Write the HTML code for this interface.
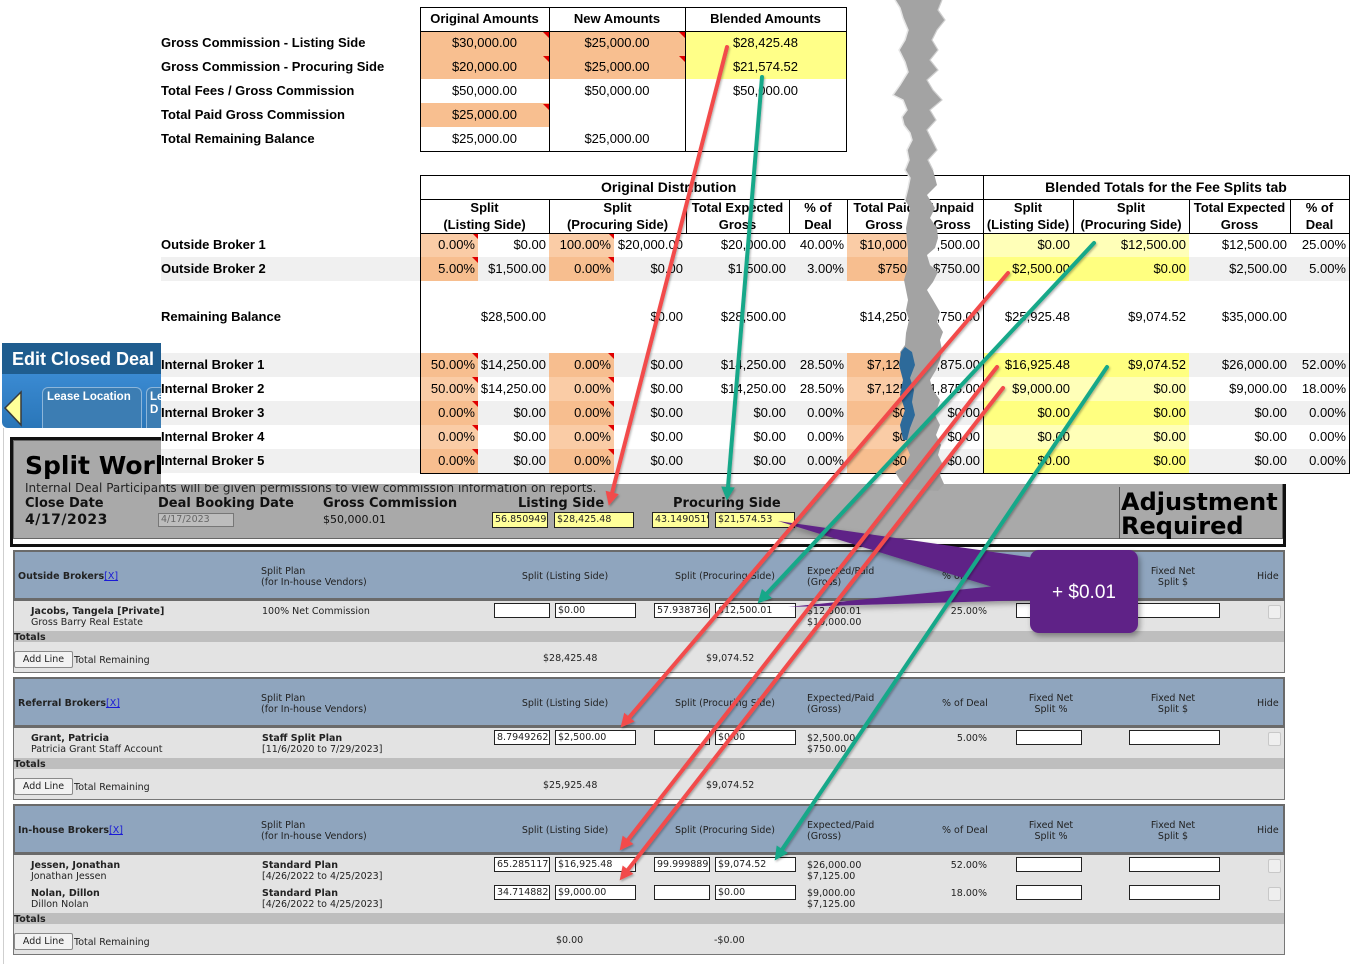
<!DOCTYPE html>
<html><head><meta charset="utf-8">
<style>
*{box-sizing:border-box}
body{margin:0;width:1364px;height:964px;position:relative;overflow:hidden;background:#fff;font-family:"Liberation Sans",Arial,sans-serif;color:#000}
.a{position:absolute}
.t{position:absolute;white-space:nowrap;font-size:13px;line-height:16px}
.tb{font-weight:bold}
.c{text-align:center}
.o{background:#F8BF90}
.tri{position:absolute;width:0;height:0;border-top:6px solid #E00000;border-left:6px solid transparent}
.sh{position:absolute;font-weight:bold;font-size:13px;line-height:17px;text-align:center;white-space:nowrap;top:199px}
table.d{position:absolute;left:420px;top:233px;border-collapse:collapse;table-layout:fixed;width:929px}
table.d td{height:24px;padding:0 3px 0 0;text-align:right;font-size:13px;white-space:nowrap;line-height:24px;overflow:visible}
table.d tr.g td{background:#F0F0F0}
table.d td.o1{background:#FACCA6}
table.d tr.g td.o2, table.d td.o2{background:#F7BE8F}
table.d td.y1{background:#FFFFB8}
table.d tr.g td.y2, table.d td.y2{background:#FFFF80}
td.tr{position:relative}
td.tr::after{content:"";position:absolute;right:0;top:0;width:0;height:0;border-top:6px solid #E00000;border-left:6px solid transparent}
.v{position:absolute;white-space:nowrap;font-family:"DejaVu Sans",Verdana,sans-serif;font-size:9.5px;line-height:11px;color:#222;margin-top:1px}
.vb{font-weight:bold}
.lk{color:#1a1ad6;text-decoration:underline;font-weight:normal}
.sec{left:13px;width:1272px;background:#E3E3E3;border:1px solid #777}
.hd{left:13px;width:1272px;height:51px;background:#8FA5BE;border:2px solid #6A6A6A;border-bottom-width:3px}
.tot{left:14px;width:1270px;height:11px;background:#BEBEBE}
.in{position:absolute;height:15px;background:#fff;border:1px solid #222;font-family:"DejaVu Sans",Verdana,sans-serif;font-size:9.5px;line-height:13px;padding-left:2px;overflow:hidden;white-space:nowrap;color:#222}
.yi{position:absolute;height:16px;background:#FFFF99;border:1px solid #222;font-family:"DejaVu Sans",Verdana,sans-serif;font-size:9.5px;line-height:14px;padding-left:2px;overflow:hidden;white-space:nowrap;color:#222}
.cb{position:absolute;width:13px;height:14px;background:#EFEFEF;border:1px solid #C8C8C8;border-radius:2px}
.btn{position:absolute;width:59px;height:17px;background:#F2F2F2;border:1px solid #8a8a8a;border-radius:2px;font-family:"DejaVu Sans",Verdana,sans-serif;font-size:9.5px;line-height:15px;text-align:center;color:#222}
.w{position:absolute;white-space:nowrap;font-family:"DejaVu Sans",Verdana,sans-serif;color:#111}
</style></head><body>

<!-- ===== Web app layer ===== -->
<div class="a" style="left:3px;top:428px;width:1px;height:536px;background:#CFCFCF"></div>

<div class="a" style="left:2px;top:343px;width:159px;height:31px;background:#1F5D8F"></div>
<div class="a" style="left:12px;top:349px;font-size:18px;line-height:20px;font-weight:bold;color:#fff;white-space:nowrap">Edit Closed Deal</div>
<div class="a" style="left:2px;top:374px;width:159px;height:54px;background:linear-gradient(#3A8AD2,#2A76B8);border-radius:0 0 0 6px"></div>
<svg class="a" style="left:0;top:385px" width="30" height="45"><polygon points="5,23 21,7 21,40" fill="#FFFF99" stroke="#3a3a3a" stroke-width="1.5"/></svg>
<div class="a" style="left:42px;top:387px;width:100px;height:41px;background:#3C7DB3;border:1px solid #8DB6DA;border-bottom:none;border-radius:6px 6px 0 0"></div>
<div class="a" style="left:47px;top:391px;font-size:11.5px;line-height:13px;font-weight:bold;color:#fff;white-space:nowrap">Lease Location</div>
<div class="a" style="left:146px;top:387px;width:20px;height:41px;background:#3C7DB3;border:1px solid #8DB6DA;border-bottom:none;border-radius:6px 6px 0 0"></div>
<div class="a" style="left:150px;top:391px;font-size:11.5px;line-height:13px;font-weight:bold;color:#fff;white-space:nowrap">Le<br>D</div>

<!-- Split Work box -->
<div class="a" style="left:10px;top:437px;width:1276px;height:110px;border:3px solid #111;background:#fff"></div>
<div class="a" style="left:13px;top:440px;width:1270px;height:99px;background:#A9A9A9;border:1px solid #666"></div>
<div class="w" style="left:25px;top:451px;font-size:25px;line-height:30px;font-weight:bold;color:#000">Split Work</div>
<div class="w" style="left:25px;top:481px;font-size:12px;line-height:14px;color:#222">Internal Deal Participants will be given permissions to view commission information on reports.</div>
<div class="w" style="left:25px;top:496px;font-size:13px;line-height:16px;font-weight:bold">Close Date</div>
<div class="w" style="left:25px;top:512px;font-size:14px;line-height:16px;font-weight:bold;letter-spacing:0.5px">4/17/2023</div>
<div class="w" style="left:158px;top:496px;font-size:13px;line-height:16px;font-weight:bold">Deal Booking Date</div>
<div class="a" style="left:158px;top:513px;width:76px;height:14px;background:#BDBDBD;border:1px solid #777;font-family:'DejaVu Sans',sans-serif;font-size:9.5px;line-height:12px;padding-left:2px;color:#666">4/17/2023</div>
<div class="w" style="left:323px;top:496px;font-size:13px;line-height:16px;font-weight:bold">Gross Commission</div>
<div class="w" style="left:323px;top:513px;font-size:11px;line-height:14px">$50,000.01</div>
<div class="w" style="left:518px;top:496px;font-size:13px;line-height:16px;font-weight:bold">Listing Side</div>
<div class="yi" style="left:492px;top:512px;width:56px">56.850949%</div>
<div class="yi" style="left:554px;top:512px;width:80px">$28,425.48</div>
<div class="w" style="left:673px;top:496px;font-size:13px;line-height:16px;font-weight:bold">Procuring Side</div>
<div class="yi" style="left:652px;top:512px;width:57px">43.149051%</div>
<div class="yi" style="left:715px;top:512px;width:80px">$21,574.53</div>
<div class="a" style="left:1119px;top:487px;width:1px;height:52px;background:#555"></div>
<div class="w" style="left:1121px;top:490px;font-size:24px;line-height:24px;font-weight:bold;color:#000">Adjustment<br>Required</div>

<!-- Section 1: Outside Brokers -->
<div class="a sec" style="top:550px;height:123px"></div>
<div class="a hd" style="top:550px"></div>
<div class="a tot" style="top:631px"></div>
<div class="v vb" style="left:18px;top:570px">Outside Brokers<span class="lk">[X]</span></div>
<div class="v" style="left:261px;top:565px">Split Plan<br>(for In-house Vendors)</div>
<div class="v c" style="left:505px;width:120px;top:570px">Split (Listing Side)</div>
<div class="v c" style="left:665px;width:120px;top:570px">Split (Procuring Side)</div>
<div class="v" style="left:807px;top:565px">Expected/Paid<br>(Gross)</div>
<div class="v" style="left:942px;top:570px">% of Deal</div>
<div class="v c" style="left:1011px;width:80px;top:565px">Fixed Net<br>Split %</div>
<div class="v c" style="left:1133px;width:80px;top:565px">Fixed Net<br>Split $</div>
<div class="v" style="left:1257px;top:570px">Hide</div>
<div class="v" style="left:31px;top:605px"><b>Jacobs, Tangela [Private]</b><br>Gross Barry Real Estate</div>
<div class="v" style="left:262px;top:605px">100% Net Commission</div>
<div class="in" style="left:494px;top:603px;width:56px"></div>
<div class="in" style="left:555px;top:603px;width:81px">$0.00</div>
<div class="in" style="left:654px;top:603px;width:56px">57.9387361</div>
<div class="in" style="left:715px;top:603px;width:81px">$12,500.01</div>
<div class="v" style="left:807px;top:605px">$12,500.01<br>$10,000.00</div>
<div class="v" style="right:377px;top:605px">25.00%</div>
<div class="in" style="left:1016px;top:603px;width:66px"></div>
<div class="in" style="left:1129px;top:603px;width:91px"></div>
<div class="cb" style="left:1268px;top:605px"></div>
<div class="v vb" style="left:14px;top:631px">Totals</div>
<div class="btn" style="left:14px;top:651px">Add Line</div>
<div class="v" style="left:74px;top:654px">Total Remaining</div>
<div class="v" style="left:543px;top:652px">$28,425.48</div>
<div class="v" style="left:706px;top:652px">$9,074.52</div>

<!-- Section 2: Referral Brokers -->
<div class="a sec" style="top:677px;height:123px"></div>
<div class="a hd" style="top:677px"></div>
<div class="a tot" style="top:758px"></div>
<div class="v vb" style="left:18px;top:697px">Referral Brokers<span class="lk">[X]</span></div>
<div class="v" style="left:261px;top:692px">Split Plan<br>(for In-house Vendors)</div>
<div class="v c" style="left:505px;width:120px;top:697px">Split (Listing Side)</div>
<div class="v c" style="left:665px;width:120px;top:697px">Split (Procuring Side)</div>
<div class="v" style="left:807px;top:692px">Expected/Paid<br>(Gross)</div>
<div class="v" style="left:942px;top:697px">% of Deal</div>
<div class="v c" style="left:1011px;width:80px;top:692px">Fixed Net<br>Split %</div>
<div class="v c" style="left:1133px;width:80px;top:692px">Fixed Net<br>Split $</div>
<div class="v" style="left:1257px;top:697px">Hide</div>
<div class="v" style="left:31px;top:732px"><b>Grant, Patricia</b><br>Patricia Grant Staff Account</div>
<div class="v" style="left:262px;top:732px"><b>Staff Split Plan</b><br>[11/6/2020 to 7/29/2023]</div>
<div class="in" style="left:494px;top:730px;width:56px">8.79492625</div>
<div class="in" style="left:555px;top:730px;width:81px">$2,500.00</div>
<div class="in" style="left:654px;top:730px;width:56px"></div>
<div class="in" style="left:715px;top:730px;width:81px">$0.00</div>
<div class="v" style="left:807px;top:732px">$2,500.00<br>$750.00</div>
<div class="v" style="right:377px;top:732px">5.00%</div>
<div class="in" style="left:1016px;top:730px;width:66px"></div>
<div class="in" style="left:1129px;top:730px;width:91px"></div>
<div class="cb" style="left:1268px;top:732px"></div>
<div class="v vb" style="left:14px;top:758px">Totals</div>
<div class="btn" style="left:14px;top:778px">Add Line</div>
<div class="v" style="left:74px;top:781px">Total Remaining</div>
<div class="v" style="left:543px;top:779px">$25,925.48</div>
<div class="v" style="left:706px;top:779px">$9,074.52</div>

<!-- Section 3: In-house Brokers -->
<div class="a sec" style="top:804px;height:151px"></div>
<div class="a hd" style="top:804px"></div>
<div class="a tot" style="top:913px"></div>
<div class="v vb" style="left:18px;top:824px">In-house Brokers<span class="lk">[X]</span></div>
<div class="v" style="left:261px;top:819px">Split Plan<br>(for In-house Vendors)</div>
<div class="v c" style="left:505px;width:120px;top:824px">Split (Listing Side)</div>
<div class="v c" style="left:665px;width:120px;top:824px">Split (Procuring Side)</div>
<div class="v" style="left:807px;top:819px">Expected/Paid<br>(Gross)</div>
<div class="v" style="left:942px;top:824px">% of Deal</div>
<div class="v c" style="left:1011px;width:80px;top:819px">Fixed Net<br>Split %</div>
<div class="v c" style="left:1133px;width:80px;top:819px">Fixed Net<br>Split $</div>
<div class="v" style="left:1257px;top:824px">Hide</div>
<div class="v" style="left:31px;top:859px"><b>Jessen, Jonathan</b><br>Jonathan Jessen</div>
<div class="v" style="left:262px;top:859px"><b>Standard Plan</b><br>[4/26/2022 to 4/25/2023]</div>
<div class="in" style="left:494px;top:857px;width:56px">65.2851172</div>
<div class="in" style="left:555px;top:857px;width:81px">$16,925.48</div>
<div class="in" style="left:654px;top:857px;width:56px">99.9998898</div>
<div class="in" style="left:715px;top:857px;width:81px">$9,074.52</div>
<div class="v" style="left:807px;top:859px">$26,000.00<br>$7,125.00</div>
<div class="v" style="right:377px;top:859px">52.00%</div>
<div class="in" style="left:1016px;top:857px;width:66px"></div>
<div class="in" style="left:1129px;top:857px;width:91px"></div>
<div class="cb" style="left:1268px;top:859px"></div>
<div class="v" style="left:31px;top:887px"><b>Nolan, Dillon</b><br>Dillon Nolan</div>
<div class="v" style="left:262px;top:887px"><b>Standard Plan</b><br>[4/26/2022 to 4/25/2023]</div>
<div class="in" style="left:494px;top:885px;width:56px">34.7148828</div>
<div class="in" style="left:555px;top:885px;width:81px">$9,000.00</div>
<div class="in" style="left:654px;top:885px;width:56px"></div>
<div class="in" style="left:715px;top:885px;width:81px">$0.00</div>
<div class="v" style="left:807px;top:887px">$9,000.00<br>$7,125.00</div>
<div class="v" style="right:377px;top:887px">18.00%</div>
<div class="in" style="left:1016px;top:885px;width:66px"></div>
<div class="in" style="left:1129px;top:885px;width:91px"></div>
<div class="cb" style="left:1268px;top:887px"></div>
<div class="v vb" style="left:14px;top:913px">Totals</div>
<div class="btn" style="left:14px;top:933px">Add Line</div>
<div class="v" style="left:74px;top:936px">Total Remaining</div>
<div class="v" style="left:556px;top:934px">$0.00</div>
<div class="v" style="left:714px;top:934px">-$0.00</div>

<!-- ===== Excel overlay ===== -->
<div class="a" style="left:161px;top:0;width:1203px;height:484px;background:#fff"></div>

<!-- top table -->
<div class="a o" style="left:420px;top:31px;width:129px;height:48px"></div>
<div class="a o" style="left:549px;top:31px;width:136px;height:48px"></div>
<div class="a o" style="left:420px;top:103px;width:129px;height:24px"></div>
<div class="a" style="left:685px;top:31px;width:161px;height:48px;background:#FFFF88"></div>
<div class="a" style="left:420px;top:7px;width:427px;height:145px;border:1px solid #000"></div>
<div class="a" style="left:420px;top:31px;width:427px;height:1px;background:#000"></div>
<div class="a" style="left:549px;top:7px;width:1px;height:145px;background:#000"></div>
<div class="a" style="left:685px;top:7px;width:1px;height:145px;background:#000"></div>
<div class="tri" style="left:543px;top:32px"></div>
<div class="tri" style="left:543px;top:56px"></div>
<div class="tri" style="left:543px;top:104px"></div>
<div class="tri" style="left:679px;top:32px"></div>
<div class="tri" style="left:679px;top:56px"></div>

<div class="t tb c" style="left:420px;width:129px;top:11px">Original Amounts</div>
<div class="t tb c" style="left:549px;width:136px;top:11px">New Amounts</div>
<div class="t tb c" style="left:685px;width:161px;top:11px">Blended Amounts</div>

<div class="t tb" style="left:161px;top:35px">Gross Commission - Listing Side</div>
<div class="t tb" style="left:161px;top:59px">Gross Commission - Procuring Side</div>
<div class="t tb" style="left:161px;top:83px">Total Fees / Gross Commission</div>
<div class="t tb" style="left:161px;top:107px">Total Paid Gross Commission</div>
<div class="t tb" style="left:161px;top:131px">Total Remaining Balance</div>

<div class="t c" style="left:420px;width:129px;top:35px">$30,000.00</div>
<div class="t c" style="left:420px;width:129px;top:59px">$20,000.00</div>
<div class="t c" style="left:420px;width:129px;top:83px">$50,000.00</div>
<div class="t c" style="left:420px;width:129px;top:107px">$25,000.00</div>
<div class="t c" style="left:420px;width:129px;top:131px">$25,000.00</div>
<div class="t c" style="left:549px;width:136px;top:35px">$25,000.00</div>
<div class="t c" style="left:549px;width:136px;top:59px">$25,000.00</div>
<div class="t c" style="left:549px;width:136px;top:83px">$50,000.00</div>
<div class="t c" style="left:549px;width:136px;top:131px">$25,000.00</div>
<div class="t c" style="left:685px;width:161px;top:35px">$28,425.48</div>
<div class="t c" style="left:685px;width:161px;top:59px">$21,574.52</div>
<div class="t c" style="left:685px;width:161px;top:83px">$50,000.00</div>

<!-- second table -->
<div class="a" style="left:161px;top:257px;width:259px;height:24px;background:#F0F0F0"></div>
<div class="a" style="left:161px;top:353px;width:259px;height:24px;background:#F0F0F0"></div>
<div class="a" style="left:161px;top:401px;width:259px;height:24px;background:#F0F0F0"></div>
<div class="a" style="left:161px;top:449px;width:259px;height:24px;background:#F0F0F0"></div>

<table class="d">
<colgroup><col style="width:58px"><col style="width:71px"><col style="width:65px"><col style="width:72px"><col style="width:103px"><col style="width:58px"><col style="width:74px"><col style="width:62px"><col style="width:90px"><col style="width:116px"><col style="width:101px"><col style="width:59px"></colgroup>
<tr><td class="o1 tr">0.00%</td><td>$0.00</td><td class="o1 tr">100.00%</td><td>$20,000.00</td><td>$20,000.00</td><td>40.00%</td><td class="o1"></td><td></td><td class="y1">$0.00</td><td class="y1">$12,500.00</td><td>$12,500.00</td><td>25.00%</td></tr>
<tr class="g"><td class="o2 tr">5.00%</td><td>$1,500.00</td><td class="o2 tr">0.00%</td><td>$0.00</td><td>$1,500.00</td><td>3.00%</td><td class="o2"></td><td></td><td class="y2">$2,500.00</td><td class="y2">$0.00</td><td>$2,500.00</td><td>5.00%</td></tr>
<tr><td></td><td></td><td></td><td></td><td></td><td></td><td></td><td></td><td></td><td></td><td></td><td></td></tr>
<tr><td></td><td>$28,500.00</td><td></td><td>$0.00</td><td>$28,500.00</td><td></td><td></td><td></td><td>$25,925.48</td><td>$9,074.52</td><td>$35,000.00</td><td></td></tr>
<tr><td></td><td></td><td></td><td></td><td></td><td></td><td></td><td></td><td></td><td></td><td></td><td></td></tr>
<tr class="g"><td class="o2 tr">50.00%</td><td>$14,250.00</td><td class="o2 tr">0.00%</td><td>$0.00</td><td>$14,250.00</td><td>28.50%</td><td class="o2"></td><td></td><td class="y2">$16,925.48</td><td class="y2">$9,074.52</td><td>$26,000.00</td><td>52.00%</td></tr>
<tr><td class="o1 tr">50.00%</td><td>$14,250.00</td><td class="o1 tr">0.00%</td><td>$0.00</td><td>$14,250.00</td><td>28.50%</td><td class="o1"></td><td></td><td class="y1">$9,000.00</td><td class="y1">$0.00</td><td>$9,000.00</td><td>18.00%</td></tr>
<tr class="g"><td class="o2 tr">0.00%</td><td>$0.00</td><td class="o2 tr">0.00%</td><td>$0.00</td><td>$0.00</td><td>0.00%</td><td class="o2"></td><td></td><td class="y2">$0.00</td><td class="y2">$0.00</td><td>$0.00</td><td>0.00%</td></tr>
<tr><td class="o1 tr">0.00%</td><td>$0.00</td><td class="o1 tr">0.00%</td><td>$0.00</td><td>$0.00</td><td>0.00%</td><td class="o1"></td><td></td><td class="y1">$0.00</td><td class="y1">$0.00</td><td>$0.00</td><td>0.00%</td></tr>
<tr class="g"><td class="o2 tr">0.00%</td><td>$0.00</td><td class="o2 tr">0.00%</td><td>$0.00</td><td>$0.00</td><td>0.00%</td><td class="o2"></td><td></td><td class="y2">$0.00</td><td class="y2">$0.00</td><td>$0.00</td><td>0.00%</td></tr>
</table>

<!-- paid / unpaid columns -->
<div class="t" style="right:439px;top:237px">$10,000.00</div>
<div class="t" style="right:384px;top:237px">$7,500.00</div>
<div class="t" style="right:439px;top:261px">$750.00</div>
<div class="t" style="right:384px;top:261px">$750.00</div>
<div class="t" style="right:439px;top:309px">$14,250.00</div>
<div class="t" style="right:384px;top:309px">$13,750.00</div>
<div class="t" style="right:439px;top:357px">$7,125.00</div>
<div class="t" style="right:384px;top:357px">$6,875.00</div>
<div class="t" style="right:439px;top:381px">$7,125.00</div>
<div class="t" style="right:384px;top:381px">$1,875.00</div>
<div class="t" style="right:439px;top:405px">$0.00</div>
<div class="t" style="right:384px;top:405px">$0.00</div>
<div class="t" style="right:439px;top:429px">$0.00</div>
<div class="t" style="right:384px;top:429px">$0.00</div>
<div class="t" style="right:439px;top:453px">$0.00</div>
<div class="t" style="right:384px;top:453px">$0.00</div>

<!-- table frame & lines -->
<div class="a" style="left:420px;top:175px;width:930px;height:299px;border:1px solid #000"></div>
<div class="a" style="left:420px;top:199px;width:930px;height:1px;background:#000"></div>
<div class="a" style="left:420px;top:233px;width:930px;height:1px;background:#000"></div>
<div class="a" style="left:983px;top:175px;width:1px;height:299px;background:#000"></div>
<div class="a" style="left:549px;top:199px;width:1px;height:34px;background:#000"></div>
<div class="a" style="left:686px;top:199px;width:1px;height:34px;background:#000"></div>
<div class="a" style="left:789px;top:199px;width:1px;height:34px;background:#000"></div>
<div class="a" style="left:847px;top:199px;width:1px;height:34px;background:#000"></div>
<div class="a" style="left:921px;top:199px;width:1px;height:34px;background:#000"></div>
<div class="a" style="left:1073px;top:199px;width:1px;height:34px;background:#000"></div>
<div class="a" style="left:1189px;top:199px;width:1px;height:34px;background:#000"></div>
<div class="a" style="left:1290px;top:199px;width:1px;height:34px;background:#000"></div>

<div class="t tb" style="left:601px;top:179px;font-size:14px">Original Distribution</div>
<div class="t tb c" style="left:983px;width:366px;top:179px;font-size:14px">Blended Totals for the Fee Splits tab</div>

<div class="sh" style="left:420px;width:129px">Split<br>(Listing Side)</div>
<div class="sh" style="left:549px;width:137px">Split<br>(Procuring Side)</div>
<div class="sh" style="left:686px;width:103px">Total Expected<br>Gross</div>
<div class="sh" style="left:789px;width:58px">% of<br>Deal</div>
<div class="sh" style="left:847px;width:74px">Total Paid<br>Gross</div>
<div class="sh" style="left:921px;width:62px">Unpaid<br>Gross</div>
<div class="sh" style="left:983px;width:90px">Split<br>(Listing Side)</div>
<div class="sh" style="left:1073px;width:116px">Split<br>(Procuring Side)</div>
<div class="sh" style="left:1189px;width:101px">Total Expected<br>Gross</div>
<div class="sh" style="left:1290px;width:59px">% of<br>Deal</div>

<div class="t tb" style="left:161px;top:237px">Outside Broker 1</div>
<div class="t tb" style="left:161px;top:261px">Outside Broker 2</div>
<div class="t tb" style="left:161px;top:309px">Remaining Balance</div>
<div class="t tb" style="left:161px;top:357px">Internal Broker 1</div>
<div class="t tb" style="left:161px;top:381px">Internal Broker 2</div>
<div class="t tb" style="left:161px;top:405px">Internal Broker 3</div>
<div class="t tb" style="left:161px;top:429px">Internal Broker 4</div>
<div class="t tb" style="left:161px;top:453px">Internal Broker 5</div>

<!-- ===== overlay graphics ===== -->
<svg class="a" style="left:0;top:0" width="1364" height="964" viewBox="0 0 1364 964">
<defs>
<marker id="mr" viewBox="0 0 10 10" refX="0" refY="5" markerWidth="3.6" markerHeight="3.4" orient="auto" markerUnits="strokeWidth"><path d="M0,0 L10,5 L0,10 z" fill="#F24B4B"/></marker>
<marker id="mg" viewBox="0 0 10 10" refX="0" refY="5" markerWidth="3.6" markerHeight="3.4" orient="auto" markerUnits="strokeWidth"><path d="M0,0 L10,5 L0,10 z" fill="#17A889"/></marker>
<filter id="sh" x="-20%" y="-20%" width="140%" height="150%"><feDropShadow dx="2" dy="3" stdDeviation="3" flood-opacity="0.35"/></filter>
<filter id="ls" x="-10%" y="-10%" width="120%" height="120%"><feDropShadow dx="1" dy="1.5" stdDeviation="1" flood-opacity="0.3"/></filter>
</defs>
<!-- torn paper -->
<polygon fill="#A3A3A3" points="895,0 900,8 903,18 908,30 905,40 899,50 905,62 908,72 900,85 893,95 903,100 907,110 902,117 904,125 910,133 912,140 907,150 909,160 905,170 910,178 908,188 905,200 910,208 908,218 906,228 907,240 908,250 908,260 907,270 904,280 906,290 908,300 906,310 909,320 906,333 905,345 900,352 903,362 906,375 902,385 906,395 908,405 903,420 907,432 906,445 910,455 905,465 895,472 900,480 908,489 938,491 944,484 940,475 943,465 938,455 941,445 936,435 940,425 935,415 940,400 933,390 930,380 936,370 940,360 942,350 940,340 943,332 937,322 940,312 933,300 927,290 933,282 938,272 930,265 927,255 935,248 938,238 937,228 930,218 935,208 927,195 937,185 933,170 928,160 937,150 932,140 927,130 936,120 930,110 942,100 933,90 927,80 938,70 930,60 938,50 932,40 937,30 945,20 938,10 942,0"/>
<polyline fill="none" stroke="#E6E6E6" stroke-width="1.5" points="895,0 900,8 903,18 908,30 905,40 899,50 905,62 908,72 900,85 893,95 903,100 907,110 902,117 904,125 910,133 912,140 907,150 909,160 905,170 910,178 908,188 905,200"/>
<polyline fill="none" stroke="#CFCFCF" stroke-width="1.2" points="942,0 938,10 945,20 937,30 932,40 938,50 930,60 938,70 927,80 933,90 942,100 930,110 936,120 927,130 932,140 937,150 928,160 933,170"/>
<polygon fill="#2D6A9A" points="905,347 912,352 915,365 910,378 914,390 912,402 915,415 910,428 907,440 903,440 900,425 905,410 900,395 903,380 899,365 901,352"/>
<!-- purple callout -->
<g filter="url(#sh)">
<polygon fill="#5F2187" points="778,521 1035,558 1035,600"/>
<polygon fill="#5F2187" points="788,607 1035,582 1035,600"/>
<rect x="1030" y="550" width="108" height="83" rx="9" ry="9" fill="#5F2187"/>
</g>
<!-- arrows -->
<g stroke-width="4" fill="none" stroke-linecap="round" filter="url(#ls)">
<line x1="727" y1="47" x2="612.2" y2="492.4" stroke="#F24B4B" marker-end="url(#mr)"/>
<line x1="762" y1="77" x2="728.0" y2="487.0" stroke="#17A889" marker-end="url(#mg)"/>
<line x1="1008" y1="273" x2="629.4" y2="717.1" stroke="#F24B4B" marker-end="url(#mr)"/>
<line x1="1094" y1="243" x2="766.9" y2="593.5" stroke="#17A889" marker-end="url(#mg)"/>
<line x1="997" y1="367" x2="628.0" y2="839.8" stroke="#F24B4B" marker-end="url(#mr)"/>
<line x1="1003" y1="388" x2="628.0" y2="869.7" stroke="#F24B4B" marker-end="url(#mr)"/>
<line x1="1107" y1="367" x2="782.3" y2="849.2" stroke="#17A889" marker-end="url(#mg)"/>
</g>
<text x="1084" y="598" fill="#fff" font-family="Liberation Sans, Arial, sans-serif" font-size="19" text-anchor="middle">+ $0.01</text>
</svg>
</body></html>
